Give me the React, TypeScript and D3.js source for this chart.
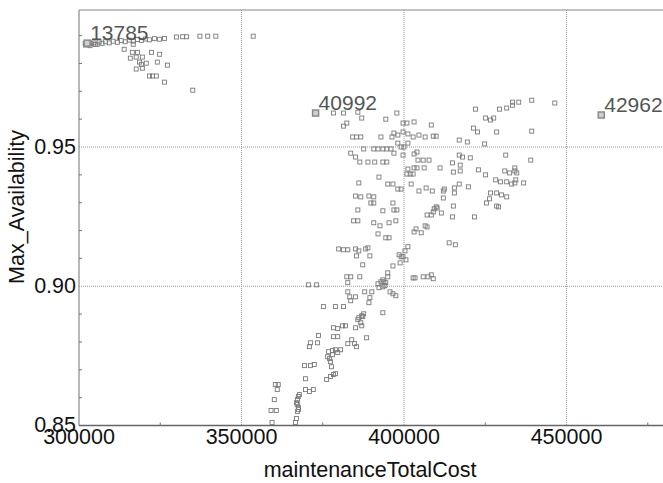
import React, { useEffect, useRef } from 'react';
import * as d3 from 'd3';

// [maintenanceTotalCost, Max_Availability]
const lowCostCluster: [number, number][] = [
  [301900, 0.9872], [302500, 0.9870], [303100, 0.9875], [303700, 0.9871], [304600, 0.9874],
  [305600, 0.9869], [306200, 0.9877], [307100, 0.9872], [308100, 0.9878], [309300, 0.9874],
  [310500, 0.9880], [311800, 0.9876], [313000, 0.9882], [314200, 0.9878], [315500, 0.9884],
  [316700, 0.9880], [318000, 0.9886], [319200, 0.9883], [320400, 0.9888], [321700, 0.9885],
  [323200, 0.9889], [324800, 0.9887], [326300, 0.9890], [302000, 0.9866], [303400, 0.9864],
  [305000, 0.9868], [330000, 0.9895], [331900, 0.9896], [333100, 0.9896], [337200, 0.9898],
  [339600, 0.9898], [342100, 0.9898], [353600, 0.9898],
  [313900, 0.9851], [316700, 0.9869], [316400, 0.9840], [318000, 0.9840], [322300, 0.9840],
  [324800, 0.9833], [315800, 0.9819], [317600, 0.9823], [319500, 0.9823], [318600, 0.9805],
  [320700, 0.9801], [324100, 0.9805], [319200, 0.9797], [327200, 0.9794], [319500, 0.9783],
  [317600, 0.9780], [321700, 0.9755], [322600, 0.9755], [323800, 0.9755], [326300, 0.9733],
  [335000, 0.9704]
];

const upperCluster: [number, number][] = [
  [378300, 0.9622], [381400, 0.9622], [385800, 0.9625], [387000, 0.9604], [394400, 0.9600],
  [397800, 0.9622], [381400, 0.9575], [382400, 0.9586], [399700, 0.9586], [400900, 0.9586],
  [403100, 0.9590], [408400, 0.9579], [384200, 0.9536], [385400, 0.9536], [386700, 0.9536],
  [392900, 0.9536], [396300, 0.9536], [396900, 0.9550], [398100, 0.9543], [399700, 0.9554],
  [401200, 0.9547], [402800, 0.9536], [404600, 0.9543], [406500, 0.9536], [409000, 0.9539],
  [409900, 0.9539], [398100, 0.9514], [401200, 0.9514], [399100, 0.9500], [400000, 0.9500],
  [387600, 0.9493], [390700, 0.9493], [392000, 0.9493], [393500, 0.9493], [394700, 0.9493],
  [396000, 0.9493],
  [422000, 0.9636], [425100, 0.9604], [426600, 0.9597], [427600, 0.9604], [429400, 0.9636],
  [431600, 0.9640], [433400, 0.9650], [433400, 0.9661], [435300, 0.9661], [439300, 0.9668],
  [446400, 0.9658], [421400, 0.9568], [422600, 0.9554], [428500, 0.9554], [439300, 0.9557],
  [417000, 0.9525], [419500, 0.9518], [424800, 0.9511]
];

const middleCluster: [number, number][] = [
  [383600, 0.9478], [385100, 0.9464], [386400, 0.9446], [388900, 0.9446], [391000, 0.9446],
  [386100, 0.9371], [392300, 0.9392], [385100, 0.9324], [386700, 0.9321], [389200, 0.9324],
  [390700, 0.9321], [389800, 0.9299], [385800, 0.9274],
  [396900, 0.9478], [399700, 0.9471], [403100, 0.9475], [404000, 0.9482], [393500, 0.9446],
  [394700, 0.9446], [404300, 0.9453], [405900, 0.9453], [407700, 0.9453], [417000, 0.9471],
  [418000, 0.9464], [420400, 0.9461], [431300, 0.9471], [439000, 0.9453], [414900, 0.9443],
  [417300, 0.9435], [417300, 0.9414], [415200, 0.9410], [411100, 0.9425], [401200, 0.9421],
  [403100, 0.9425], [404000, 0.9425], [406200, 0.9425], [400900, 0.9403], [401900, 0.9403],
  [402800, 0.9403], [422900, 0.9418], [425100, 0.9400], [431000, 0.9414], [432500, 0.9407],
  [434100, 0.9414], [434700, 0.9407], [434100, 0.9425], [428200, 0.9382], [429700, 0.9375],
  [431600, 0.9375], [433100, 0.9367], [434100, 0.9371], [434400, 0.9382], [436800, 0.9371],
  [395000, 0.9367], [396600, 0.9367], [402200, 0.9367], [398100, 0.9349], [399100, 0.9349],
  [404600, 0.9342], [406800, 0.9353], [408700, 0.9342], [412400, 0.9349], [412100, 0.9342],
  [415500, 0.9353], [415500, 0.9335], [417000, 0.9367], [419800, 0.9357], [426600, 0.9335],
  [428500, 0.9335], [430000, 0.9328], [431600, 0.9321], [426300, 0.9314], [425400, 0.9299],
  [412100, 0.9317], [396600, 0.9299], [393500, 0.9271], [396900, 0.9274], [397800, 0.9274],
  [428500, 0.9288], [429100, 0.9285], [409900, 0.9285], [409300, 0.9278], [409000, 0.9267],
  [410200, 0.9281], [407100, 0.9256], [408400, 0.9256], [411500, 0.9263], [415200, 0.9288],
  [414900, 0.9249], [421700, 0.9249], [397500, 0.9235], [395400, 0.9228], [403700, 0.9206],
  [403100, 0.9195], [405300, 0.9192], [406500, 0.9217], [407100, 0.9213], [394400, 0.9174],
  [395400, 0.9174], [401200, 0.9142], [400300, 0.9127], [398500, 0.9113], [399100, 0.9106],
  [399700, 0.9106], [400600, 0.9095], [398800, 0.9084], [396600, 0.9073], [413900, 0.9156],
  [415800, 0.9149], [395000, 0.9048], [395000, 0.9034], [393500, 0.9023], [393800, 0.9016],
  [394400, 0.9013], [402800, 0.9030], [403400, 0.9030], [405900, 0.9034], [407400, 0.9034],
  [408400, 0.9041], [409000, 0.9027],
  [390700, 0.9299], [384500, 0.9235], [385800, 0.9235], [390700, 0.9228], [392600, 0.9217],
  [392000, 0.9188], [379900, 0.9134], [381400, 0.9131], [382700, 0.9131], [385100, 0.9134],
  [386100, 0.9127], [388200, 0.9134], [388900, 0.9138], [385400, 0.9109], [389500, 0.9109],
  [387300, 0.9077], [382400, 0.9034], [383600, 0.9034], [382700, 0.9013], [386400, 0.9034],
  [370600, 0.9005], [373100, 0.9005], [392000, 0.9009], [392900, 0.9016], [393500, 0.8998],
  [394100, 0.9002], [392300, 0.8995]
];

const lowerCluster: [number, number][] = [
  [382700, 0.8980], [383300, 0.8962], [385100, 0.8962], [387900, 0.8980], [390100, 0.8980],
  [389500, 0.8959], [389200, 0.8941], [395700, 0.8980], [396600, 0.8973], [397500, 0.8966],
  [375200, 0.8927], [378900, 0.8927], [381400, 0.8927], [393500, 0.8905], [386100, 0.8887],
  [387000, 0.8894], [387600, 0.8901], [387300, 0.8891], [385800, 0.8880], [383600, 0.8948],
  [386700, 0.8869], [381100, 0.8858], [382000, 0.8858], [378300, 0.8851], [385100, 0.8851],
  [387000, 0.8858],
  [373700, 0.8823], [371200, 0.8797], [373400, 0.8797], [370900, 0.8783], [379600, 0.8848],
  [378300, 0.8819], [379600, 0.8819], [383900, 0.8808], [382700, 0.8794], [384800, 0.8794],
  [385400, 0.8783], [388500, 0.8815], [376800, 0.8765], [378000, 0.8769], [378900, 0.8772],
  [380500, 0.8772], [379600, 0.8762], [376500, 0.8747], [377100, 0.8740], [378000, 0.8754],
  [377400, 0.8729], [369400, 0.8715], [371200, 0.8715], [372400, 0.8719], [377700, 0.8711],
  [369700, 0.8668], [376200, 0.8665], [377400, 0.8676], [378300, 0.8683], [378900, 0.8686],
  [360400, 0.8647], [361300, 0.8647], [361000, 0.8629], [369700, 0.8629], [370900, 0.8622],
  [372100, 0.8629], [360100, 0.8593], [367800, 0.8611], [367500, 0.8604], [367200, 0.8593],
  [366900, 0.8582], [367200, 0.8575], [367500, 0.8565], [367500, 0.8557], [367200, 0.8550],
  [359100, 0.8554], [360700, 0.8554], [359400, 0.8511], [366900, 0.8525], [366600, 0.8511]
];

const labelledPoints: { id: string; cost: number; avail: number }[] = [
  { id: '13785', cost: 302500, avail: 0.9873 },
  { id: '40992', cost: 372800, avail: 0.9622 },
  { id: '42962', cost: 460700, avail: 0.9615 }
];

const xTicks = [300000, 350000, 400000, 450000];
const xMinorTicks = [325000, 375000, 425000, 475000];
const yTicks = [0.85, 0.9, 0.95];
const yMinorTicks = [0.86, 0.87, 0.88, 0.89, 0.91, 0.92, 0.93, 0.94, 0.96, 0.97, 0.98, 0.99];

const W = 663;
const H = 483;
const FONT = "'Liberation Sans', Arial, sans-serif";

const App = () => {
  const ref = useRef<SVGSVGElement>(null);

  useEffect(() => {
    document.body.style.margin = '0';
    const svg = d3.select(ref.current);
    svg.selectAll('*').remove();

    const x = d3.scaleLinear().domain([300000, 480000]).range([79, 664]);
    const y = d3.scaleLinear().domain([0.85, 0.9992]).range([425.5, 10]);
    const x0 = x.range()[0];
    const y0 = y.range()[0];
    const yTop = y.range()[1];

    // dotted grid
    svg.append('g')
      .selectAll('line')
      .data(xTicks.slice(1))
      .join('line')
      .attr('x1', d => x(d)).attr('x2', d => x(d))
      .attr('y1', yTop).attr('y2', y0)
      .attr('stroke', '#999').attr('stroke-dasharray', '1,1');
    svg.append('g')
      .selectAll('line')
      .data(yTicks.slice(1))
      .join('line')
      .attr('x1', x0).attr('x2', W)
      .attr('y1', d => y(d)).attr('y2', d => y(d))
      .attr('stroke', '#999').attr('stroke-dasharray', '1,1');

    // frame
    svg.append('line').attr('x1', x0).attr('x2', W).attr('y1', yTop).attr('y2', yTop)
      .attr('stroke', '#888').attr('stroke-width', 1.2);
    svg.append('line').attr('x1', x0).attr('x2', x0).attr('y1', yTop).attr('y2', y0)
      .attr('stroke', '#888').attr('stroke-width', 1.2);
    svg.append('line').attr('x1', x0).attr('x2', W).attr('y1', y0).attr('y2', y0)
      .attr('stroke', '#666').attr('stroke-width', 1.5);

    // inner ticks
    svg.append('g').selectAll('line').data(yMinorTicks).join('line')
      .attr('x1', x0).attr('x2', x0 + 3)
      .attr('y1', d => y(d)).attr('y2', d => y(d))
      .attr('stroke', '#777');
    svg.append('g').selectAll('line').data(xMinorTicks).join('line')
      .attr('x1', d => x(d)).attr('x2', d => x(d))
      .attr('y1', y0).attr('y2', y0 - 3)
      .attr('stroke', '#777');

    // tick labels
    svg.append('g').selectAll('text').data(xTicks).join('text')
      .attr('x', d => x(d)).attr('y', 444)
      .attr('text-anchor', 'middle')
      .attr('font-family', FONT).attr('font-size', 21.5).attr('fill', '#111')
      .text(d => d3.format('d')(d));
    svg.append('g').selectAll('text').data(yTicks).join('text')
      .attr('x', x0 - 3).attr('y', d => y(d) - 1).attr('dy', '0.35em')
      .attr('text-anchor', 'end')
      .attr('font-family', FONT).attr('font-size', 21.5).attr('fill', '#111')
      .text(d => d3.format('.2f')(d));

    // axis titles
    svg.append('text')
      .attr('x', 370).attr('y', 477)
      .attr('text-anchor', 'middle')
      .attr('font-family', FONT).attr('font-size', 21.5).attr('fill', '#111')
      .text('maintenanceTotalCost');
    svg.append('text')
      .attr('transform', 'translate(24,207) rotate(-90)')
      .attr('text-anchor', 'middle')
      .attr('font-family', FONT).attr('font-size', 21.5).attr('fill', '#111')
      .text('Max_Availability');

    // points
    const all = [...lowCostCluster, ...upperCluster, ...middleCluster, ...lowerCluster];
    const plot = svg.append('g');
    plot.selectAll('rect')
      .data(all)
      .join('rect')
      .attr('x', d => x(d[0]) - 2)
      .attr('y', d => y(d[1]) - 2)
      .attr('width', 4)
      .attr('height', 4)
      .attr('fill', 'none')
      .attr('stroke', '#7a7a7a')
      .attr('stroke-width', 0.9);

    const lab = svg.append('g');
    lab.selectAll('rect')
      .data(labelledPoints)
      .join('rect')
      .attr('x', d => x(d.cost) - 3)
      .attr('y', d => y(d.avail) - 3)
      .attr('width', 6)
      .attr('height', 6)
      .attr('fill', '#d0d0d0')
      .attr('stroke', '#8a8a8a')
      .attr('stroke-width', 1.5);
    lab.selectAll('text')
      .data(labelledPoints)
      .join('text')
      .attr('x', d => x(d.cost) + 3)
      .attr('y', d => y(d.avail) - 3)
      .attr('font-family', FONT)
      .attr('font-size', 21)
      .attr('fill', '#555')
      .text(d => d.id);
  }, []);

  return <svg ref={ref} width={W} height={H} style={{ display: 'block', background: '#fff' }} />;
};

export default App;
